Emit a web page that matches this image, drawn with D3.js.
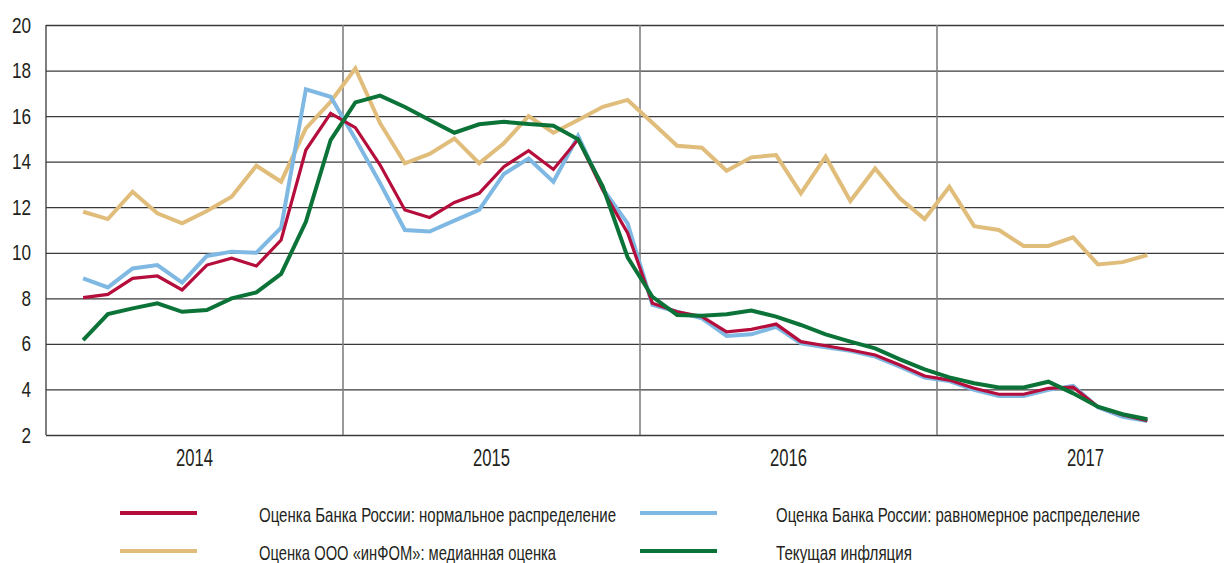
<!DOCTYPE html>
<html>
<head>
<meta charset="utf-8">
<script src="https://cdn.jsdelivr.net/npm/d3@7"></script>
<style>
  body { margin: 0; background: #fff; }
  svg { display: block; font-family: "Liberation Sans", Arial, sans-serif; }
</style>
</head>
<body>
<div id="chart"></div>
<script>
// monthly observations, Feb 2014 .. Sep 2017
const months = [
  "2014-02","2014-03","2014-04","2014-05","2014-06","2014-07","2014-08","2014-09","2014-10","2014-11","2014-12",
  "2015-01","2015-02","2015-03","2015-04","2015-05","2015-06","2015-07","2015-08","2015-09","2015-10","2015-11","2015-12",
  "2016-01","2016-02","2016-03","2016-04","2016-05","2016-06","2016-07","2016-08","2016-09","2016-10","2016-11","2016-12",
  "2017-01","2017-02","2017-03","2017-04","2017-05","2017-06","2017-07","2017-08","2017-09"
];

// Оценка Банка России: нормальное распределение
const normalDist = [
  8.03, 8.17, 8.88, 8.98, 8.37, 9.46, 9.76, 9.42, 10.56, 14.51, 16.12,
  15.49, 13.85, 11.88, 11.55, 12.21, 12.61, 13.78, 14.48, 13.66, 14.98, 12.75, 10.87,
  7.78, 7.41, 7.2, 6.53, 6.64, 6.87, 6.1, 5.92, 5.73, 5.51, 5.07, 4.59,
  4.41, 4.05, 3.79, 3.79, 4.05, 4.1, 3.24, 2.88, 2.63
];

// Оценка Банка России: равномерное распределение
const uniformDist = [
  8.88, 8.48, 9.31, 9.46, 8.69, 9.86, 10.05, 10.0, 11.1, 17.18, 16.85,
  15.0, 13.05, 11.0, 10.93, 11.41, 11.88, 13.46, 14.14, 13.12, 15.13, 12.8, 11.29,
  7.71, 7.41, 7.12, 6.35, 6.42, 6.75, 6.02, 5.85, 5.7, 5.44, 5.0, 4.52,
  4.37, 3.98, 3.71, 3.71, 3.98, 4.16, 3.22, 2.8, 2.61
];

// Оценка ООО «инФОМ»: медианная оценка
const infomMedian = [
  11.8, 11.48, 12.68, 11.73, 11.29, 11.83, 12.46, 13.82, 13.12, 15.46, 16.63,
  18.09, 15.68, 13.93, 14.34, 15.02, 13.93, 14.81, 16.0, 15.27, 15.83, 16.41, 16.71,
  15.71, 14.7, 14.61, 13.6, 14.19, 14.29, 12.61, 14.22, 12.27, 13.7, 12.39, 11.48,
  12.9, 11.17, 11.0, 10.3, 10.3, 10.68, 9.49, 9.59, 9.9
];

// Текущая инфляция
const currentInflation = [
  6.17, 7.31, 7.56, 7.78, 7.41, 7.49, 8.0, 8.26, 9.07, 11.36, 14.95,
  16.6, 16.9, 16.4, 15.83, 15.27, 15.64, 15.75, 15.65, 15.58, 14.98, 12.9, 9.8,
  8.07, 7.27, 7.24, 7.3, 7.46, 7.2, 6.83, 6.42, 6.1, 5.8, 5.32, 4.88,
  4.53, 4.27, 4.09, 4.09, 4.34, 3.83, 3.24, 2.91, 2.69
];

const years = [2014, 2015, 2016, 2017];
const yTicks = [2, 4, 6, 8, 10, 12, 14, 16, 18, 20];

const seriesNames = [
  "Оценка Банка России: нормальное распределение",
  "Оценка Банка России: равномерное распределение",
  "Оценка ООО «инФОМ»: медианная оценка",
  "Текущая инфляция"
];
const seriesColors = ["#b50d3c", "#7fb9e3", "#e0bd7b", "#0b7338"];

const width = 1224, height = 563;
const margin = { top: 25, left: 46, bottom: 128 };
const plotBottom = height - margin.bottom;
const textColor = "#231f20";

const svg = d3.select("#chart")
  .append("svg")
  .attr("width", width)
  .attr("height", height);

// squeeze text to mimic the narrow typeface of the original
function narrow(sel, ratio) {
  sel.each(function () {
    const w = this.getComputedTextLength();
    d3.select(this).attr("textLength", w * ratio).attr("lengthAdjust", "spacingAndGlyphs");
  });
}

// month index from Jan 2014, points sit mid-month
const monthIndex = months.map(m => {
  const [yy, mm] = m.split("-").map(Number);
  return (yy - 2014) * 12 + (mm - 1) + 0.5;
});

const x = d3.scaleLinear().domain([0, 48]).range([margin.left, margin.left + 48 * 24.75]);
const y = d3.scaleLinear().domain([2, 20]).range([plotBottom, margin.top]);

// horizontal grid + y labels
const yAxis = svg.append("g")
  .attr("transform", `translate(${margin.left},0)`)
  .call(d3.axisLeft(y).tickValues(yTicks).tickSize(-(width - margin.left)).tickPadding(15));
yAxis.select(".domain").remove();
yAxis.selectAll(".tick line").attr("stroke", "#3a3a3a").attr("stroke-width", 1.3);
yAxis.selectAll(".tick text")
  .attr("fill", textColor)
  .attr("font-size", "22px")
  .attr("font-family", "inherit")
  .call(narrow, 0.78);

// year separators
svg.append("g")
  .selectAll("line")
  .data(years.slice(1))
  .join("line")
    .attr("x1", d => x((d - 2014) * 12))
    .attr("x2", d => x((d - 2014) * 12))
    .attr("y1", margin.top)
    .attr("y2", plotBottom)
    .attr("stroke", "#808080")
    .attr("stroke-width", 1.6);

// left frame
svg.append("line")
  .attr("x1", margin.left).attr("x2", margin.left)
  .attr("y1", margin.top).attr("y2", plotBottom)
  .attr("stroke", "#3a3a3a").attr("stroke-width", 1.3);

// year labels
svg.append("g")
  .selectAll("text")
  .data(years)
  .join("text")
    .attr("x", d => x((d - 2014) * 12 + 6))
    .attr("y", plotBottom + 31)
    .attr("text-anchor", "middle")
    .attr("font-size", "23px")
    .attr("fill", textColor)
    .text(d => d)
    .attr("textLength", 37)
    .attr("lengthAdjust", "spacingAndGlyphs");

// lines (drawn tan, blue, red, green)
const seriesData = [normalDist, uniformDist, infomMedian, currentInflation];
const line = d3.line()
  .x((d, i) => x(monthIndex[i]))
  .y(d => y(d));

const drawOrder = [2, 1, 0, 3];
const widths = [3.2, 4, 4, 4];
svg.append("g")
  .selectAll("path")
  .data(drawOrder)
  .join("path")
    .attr("d", k => line(seriesData[k]))
    .attr("fill", "none")
    .attr("stroke", k => seriesColors[k])
    .attr("stroke-width", k => widths[k])
    .attr("stroke-linejoin", "miter");

// legend
const legendPos = [
  { lx: 120, tx: 259, y: 513, w: 357 },
  { lx: 640, tx: 776, y: 513, w: 364 },
  { lx: 120, tx: 259, y: 551, w: 297 },
  { lx: 640, tx: 776, y: 551, w: 136 }
];
const legend = svg.append("g")
  .selectAll("g")
  .data(seriesNames)
  .join("g");
legend.append("line")
  .attr("x1", (d, i) => legendPos[i].lx)
  .attr("x2", (d, i) => legendPos[i].lx + 77)
  .attr("y1", (d, i) => legendPos[i].y)
  .attr("y2", (d, i) => legendPos[i].y)
  .attr("stroke", (d, i) => seriesColors[i])
  .attr("stroke-width", 4);
legend.append("text")
  .attr("x", (d, i) => legendPos[i].tx)
  .attr("y", (d, i) => legendPos[i].y + 9)
  .attr("font-size", "21px")
  .attr("fill", textColor)
  .attr("textLength", (d, i) => legendPos[i].w)
  .attr("lengthAdjust", "spacingAndGlyphs")
  .text(d => d);
</script>
</body>
</html>
